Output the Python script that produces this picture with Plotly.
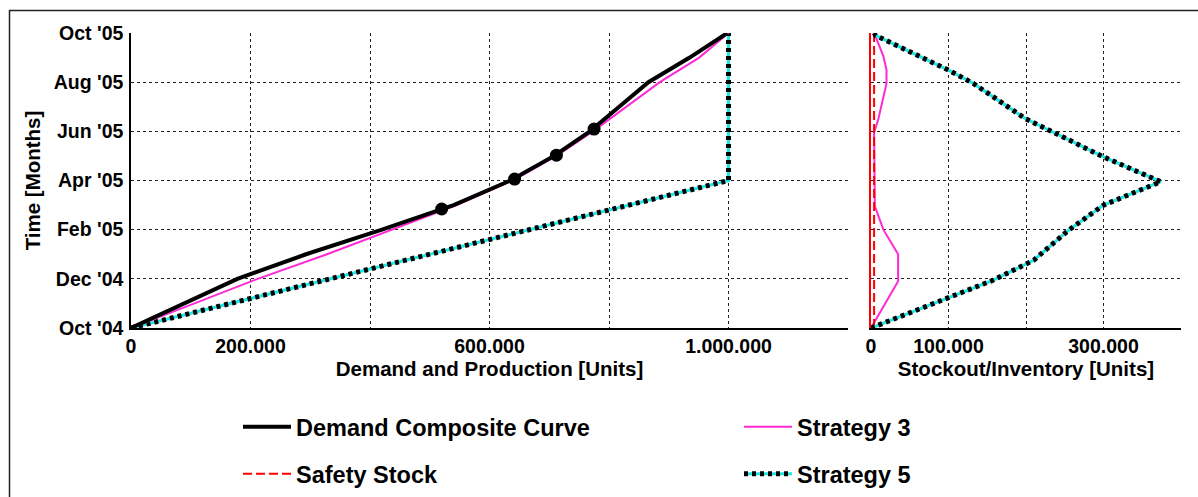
import plotly.graph_objects as go

# ---------------- data (time in months since Oct '04) ----------------
month_ticks = [0, 2, 4, 6, 8, 10, 12]
month_labels = ["Oct '04", "Dec '04", "Feb '05", "Apr '05", "Jun '05", "Aug '05", "Oct '05"]

x1_ticks = [0, 200000, 400000, 600000, 800000, 1000000, 1200000]
x1_labels = ["0", "200.000", "", "600.000", "", "1.000.000", ""]
x2_ticks = [0, 100000, 200000, 300000, 400000]
x2_labels = ["0", "100.000", "", "300.000", ""]

# Demand composite curve (cumulative units)
demand_t = [0, 1, 2, 3, 4, 5, 6, 7, 8, 9, 10, 11, 12]
demand_v = [0, 89000, 178000, 293000, 420000, 540000, 635000, 708000, 768000,
            817000, 866000, 935000, 998000]
# milestone markers on the demand curve
milestone_t = [4.84, 6.06, 7.03, 8.09]
milestone_v = [520000, 642000, 712000, 775000]

# Strategy 3 cumulative production
s3_t = [0, 1, 2, 3, 4, 5, 6, 7, 8, 9, 10, 11, 12]
s3_v = [0, 107000, 212000, 328000, 436000, 545000, 639000, 712000, 773000,
        829000, 885000, 951000, 1000000]

# Strategy 5 cumulative production
s5_t = [0, 6, 12]
s5_v = [0, 1000000, 1000000]

# Stockout / inventory (right panel)
inv3_t = [0, 1.9, 3.0, 4.0, 4.95, 7.95, 8.5, 9.95, 10.5, 11.05, 11.85, 12]
inv3_v = [0, 35000, 35000, 16000, 5000, 4000, 9500, 20000, 20000, 16000, 6000, 4000]

inv5_t = [0, 1.95, 2.76, 3.98, 5.0, 5.95, 6.96, 8.52, 9.95, 10.49, 11.9, 12]
inv5_v = [0, 158000, 210000, 255000, 300000, 374000, 300000, 199000, 132000, 100000, 6000, 4000]

safety_t = [0, 12]
safety_v = [4000, 4000]

# ---------------- styling ----------------
FONT = "Liberation Sans, Arial, sans-serif"
CYAN = "#22e6e6"
MAGENTA = "#ff2ad4"
W, H = 1198, 497

fig = go.Figure()

# left panel
fig.add_trace(go.Scatter(x=s5_v, y=s5_t, mode="lines", line=dict(color=CYAN, width=3),
                         showlegend=False, xaxis="x", yaxis="y"))
fig.add_trace(go.Scatter(x=s5_v, y=s5_t, mode="lines", line=dict(color="black", width=5, dash="4px,4px"),
                         showlegend=False, xaxis="x", yaxis="y"))
fig.add_trace(go.Scatter(x=s3_v, y=s3_t, mode="lines", line=dict(color=MAGENTA, width=2),
                         showlegend=False, xaxis="x", yaxis="y"))
fig.add_trace(go.Scatter(x=demand_v, y=demand_t, mode="lines", line=dict(color="black", width=4),
                         name="Demand Composite Curve", legend="legend", xaxis="x", yaxis="y"))
fig.add_trace(go.Scatter(x=milestone_v, y=milestone_t, mode="markers",
                         marker=dict(color="black", size=13), showlegend=False, xaxis="x", yaxis="y"))

# right panel
fig.add_trace(go.Scatter(x=inv3_v, y=inv3_t, mode="lines", line=dict(color=MAGENTA, width=2),
                         name="Strategy 3", legend="legend2", xaxis="x2", yaxis="y2"))
fig.add_trace(go.Scatter(x=safety_v, y=safety_t, mode="lines", line=dict(color="red", width=2, dash="9px,4px"),
                         name="Safety Stock", legend="legend3", xaxis="x2", yaxis="y2"))
fig.add_trace(go.Scatter(x=inv5_v, y=inv5_t, mode="lines", line=dict(color=CYAN, width=3),
                         name="Strategy 5", legend="legend4", xaxis="x2", yaxis="y2"))
fig.add_trace(go.Scatter(x=inv5_v, y=inv5_t, mode="lines", line=dict(color="black", width=5, dash="4px,4px"),
                         name="Strategy 5", legend="legend5", xaxis="x2", yaxis="y2"))

tickfont = dict(family=FONT, size=19.5, color="black", weight="bold")
titlefont = dict(family=FONT, size=20.5, color="black", weight="bold")
grid = dict(showgrid=True, gridcolor="#222", gridwidth=1, griddash="3px,3px", zeroline=False,
            automargin=False)

ydom = [1 - 328 / H, 1 - 33 / H]

fig.update_layout(
    width=W, height=H,
    margin=dict(l=0, r=0, t=0, b=0, autoexpand=False),
    paper_bgcolor="white", plot_bgcolor="white",
    font=dict(family=FONT, color="black"),
    xaxis=dict(domain=[131 / W, 848 / W], range=[0, 1200000], tickmode="array",
               tickvals=x1_ticks, ticktext=x1_labels, tickfont=tickfont, ticks="",
               showline=True, linecolor="black", linewidth=1.5,
               title=dict(text="Demand and Production [Units]", font=titlefont, standoff=3),
               anchor="y", **grid),
    yaxis=dict(domain=ydom, range=[0, 12], tickmode="array", tickvals=month_ticks,
               ticktext=month_labels, tickfont=tickfont, ticks="", ticklabelstandoff=2,
               showline=True, linecolor="black", linewidth=1.5,
               title=dict(text="Time [Months]", font=titlefont, standoff=8),
               anchor="x", **grid),
    xaxis2=dict(domain=[871 / W, 1181 / W], range=[0, 400000], tickmode="array",
                tickvals=x2_ticks, ticktext=x2_labels, tickfont=tickfont, ticks="",
                showline=True, linecolor="black", linewidth=1.5,
                title=dict(text="Stockout/Inventory [Units]", font=titlefont, standoff=3),
                anchor="y2", **grid),
    yaxis2=dict(domain=ydom, range=[0, 12], tickmode="array", tickvals=month_ticks,
                showticklabels=False, ticks="", showline=True, linecolor="red", linewidth=1.5,
                anchor="x2", **grid),
)

legfont = dict(family=FONT, size=23.5, color="black", weight="bold")
def leg(x, y, color=None):
    f = dict(legfont)
    if color:
        f["color"] = color
    return dict(x=x, y=y, xanchor="left", yanchor="middle", bgcolor="rgba(0,0,0,0)",
                borderwidth=0, itemwidth=48, font=f, itemclick=False, itemdoubleclick=False)

row1 = 1 - 427 / H
row2 = 1 - 474 / H
fig.update_layout(
    legend=leg(238 / W, row1),
    legend3=leg(238 / W, row2),
    legend2=leg(739 / W, row1),
    legend4=leg(739 / W, row2, "rgba(0,0,0,0)"),
    legend5=leg(739 / W, row2),
)

# outer frame
fig.add_shape(type="rect", xref="paper", yref="paper", x0=9.5 / W, x1=1.05,
              y0=-0.05, y1=1 - 10.5 / H, line=dict(color="#222", width=1.5), layer="below")

fig.write_html("out.html", config={"displayModeBar": False},
               post_script="document.body.style.margin='0';")
